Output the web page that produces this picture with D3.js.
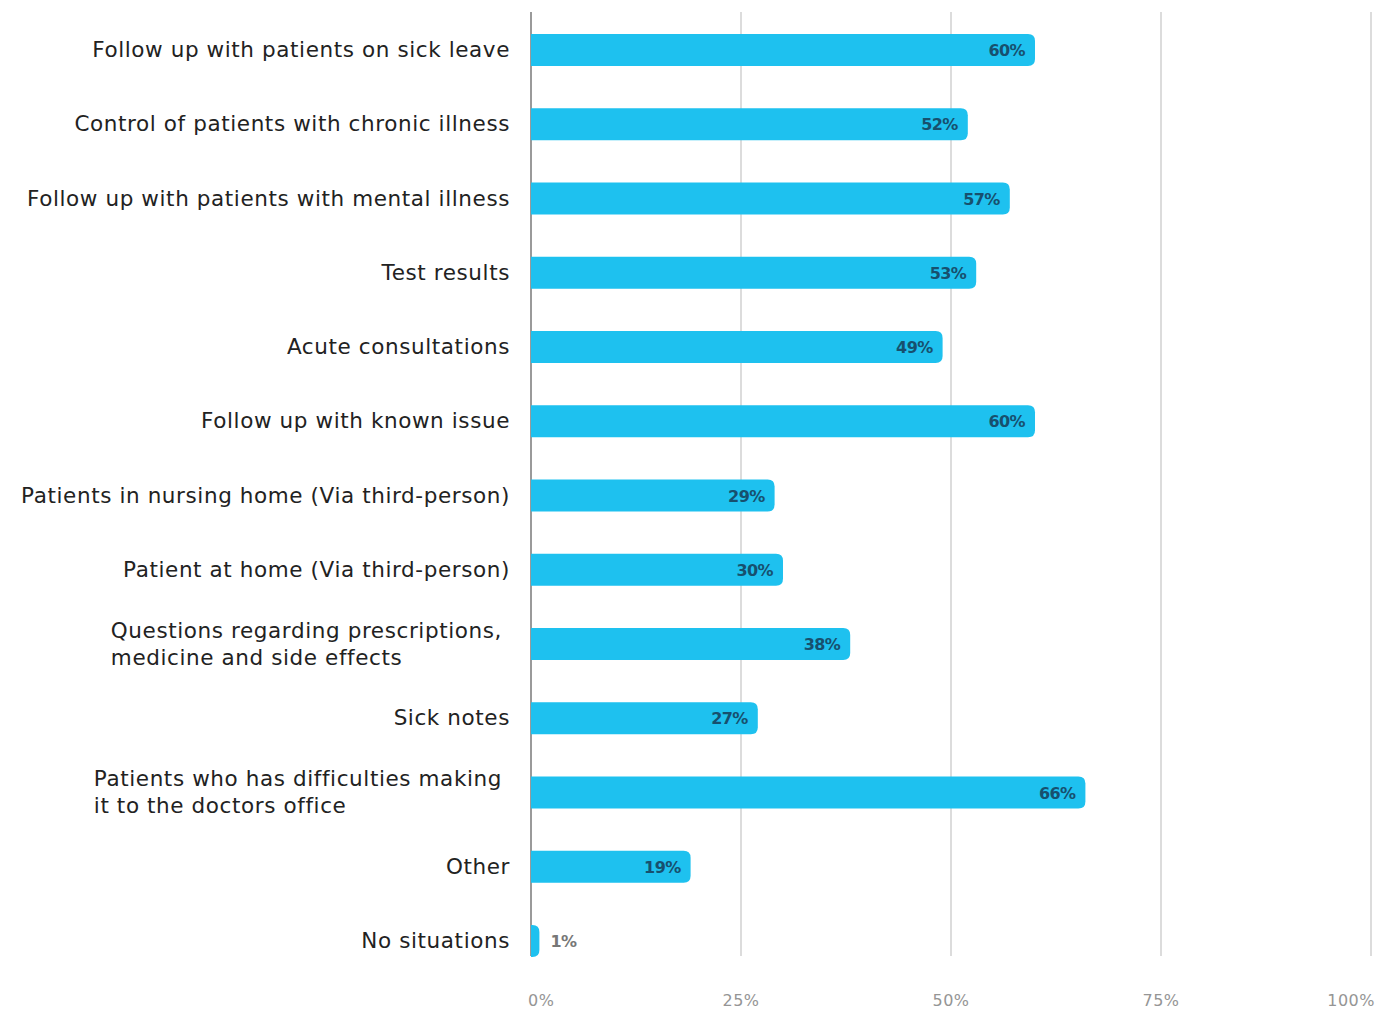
<!DOCTYPE html>
<html>
<head>
<meta charset="utf-8">
<script src="https://cdn.jsdelivr.net/npm/d3@7"></script>
<style>
  body { margin: 0; background: #fff; }
  text { font-family: "DejaVu Sans", sans-serif; }
</style>
</head>
<body>
<svg class="chart" width="1377" height="1011"></svg>
<script>
const categories = [
  ['Follow up with patients on sick leave'],
  ['Control of patients with chronic illness'],
  ['Follow up with patients with mental illness'],
  ['Test results'],
  ['Acute consultations'],
  ['Follow up with known issue'],
  ['Patients in nursing home (Via third-person)'],
  ['Patient at home (Via third-person)'],
  ['Questions regarding prescriptions,', 'medicine and side effects'],
  ['Sick notes'],
  ['Patients who has difficulties making', 'it to the doctors office'],
  ['Other'],
  ['No situations']
];
const values = [60, 52, 57, 53, 49, 60, 29, 30, 38, 27, 66, 19, 1];
const ticks = [0, 25, 50, 75, 100];

const svg = d3.select('.chart');
const x = d3.scaleLinear().domain([0, 100]).range([531, 1371]);
const y = d3.scalePoint().domain(d3.range(categories.length)).range([50, 941]);
const barH = 32;
const r = 7;

// grid lines
svg.append('g')
  .selectAll('line')
  .data(ticks)
  .enter()
  .append('line')
  .attr('x1', d => x(d))
  .attr('x2', d => x(d))
  .attr('y1', 12)
  .attr('y2', 956)
  .attr('stroke', d => d === 0 ? '#9a9a9a' : '#dcdcdc')
  .attr('stroke-width', 2);

// tick labels
svg.append('g')
  .selectAll('text')
  .data(ticks)
  .enter()
  .append('text')
  .attr('x', (d, i) => i === 0 ? x(d) - 3 : (i === ticks.length - 1 ? x(d) + 4 : x(d)))
  .attr('y', 1006)
  .attr('text-anchor', (d, i) => i === 0 ? 'start' : (i === ticks.length - 1 ? 'end' : 'middle'))
  .attr('font-size', 16)
  .attr('letter-spacing', 0.5)
  .attr('fill', '#959595')
  .text(d => d + '%');

function barPath(d, i) {
  const x0 = x(0);
  const x1 = x(d);
  const top = y(i) - barH / 2;
  const bot = y(i) + barH / 2;
  const rr = Math.min(r, (x1 - x0));
  return `M${x0},${top} H${x1 - rr} Q${x1},${top} ${x1},${top + rr} V${bot - rr} Q${x1},${bot} ${x1 - rr},${bot} H${x0} Z`;
}

svg.append('g')
  .selectAll('path')
  .data(values)
  .enter()
  .append('path')
  .attr('d', barPath)
  .attr('fill', '#1ec1ef');

// value labels
svg.append('g')
  .selectAll('text')
  .data(values)
  .enter()
  .append('text')
  .attr('x', d => d < 5 ? x(d) + 11 : x(d) - 10)
  .attr('y', (d, i) => y(i) + 6)
  .attr('text-anchor', d => d < 5 ? 'start' : 'end')
  .attr('font-size', 16)
  .attr('font-weight', 'bold')
  .attr('letter-spacing', -0.6)
  .attr('fill', d => d < 5 ? '#777' : '#17506e')
  .text(d => d + '%');

// category labels
const labelRight = 510;
const lineH = 27;
const labels = svg.append('g')
  .selectAll('g')
  .data(categories)
  .enter()
  .append('g');

labels.each(function (lines, i) {
  const g = d3.select(this);
  const n = lines.length;
  const texts = lines.map((line, j) => g.append('text')
    .attr('y', y(i) + (j - (n - 1) / 2) * lineH + 7)
    .attr('font-size', 21.5)
    .attr('letter-spacing', 0.6)
    .attr('fill', '#222')
    .text(line));
  if (n === 1) {
    texts[0].attr('x', labelRight).attr('text-anchor', 'end');
  } else {
    const w = d3.max(texts, t => t.node().getComputedTextLength());
    texts.forEach(t => t.attr('x', labelRight - 8 - w));
  }
});
</script>
</body>
</html>
